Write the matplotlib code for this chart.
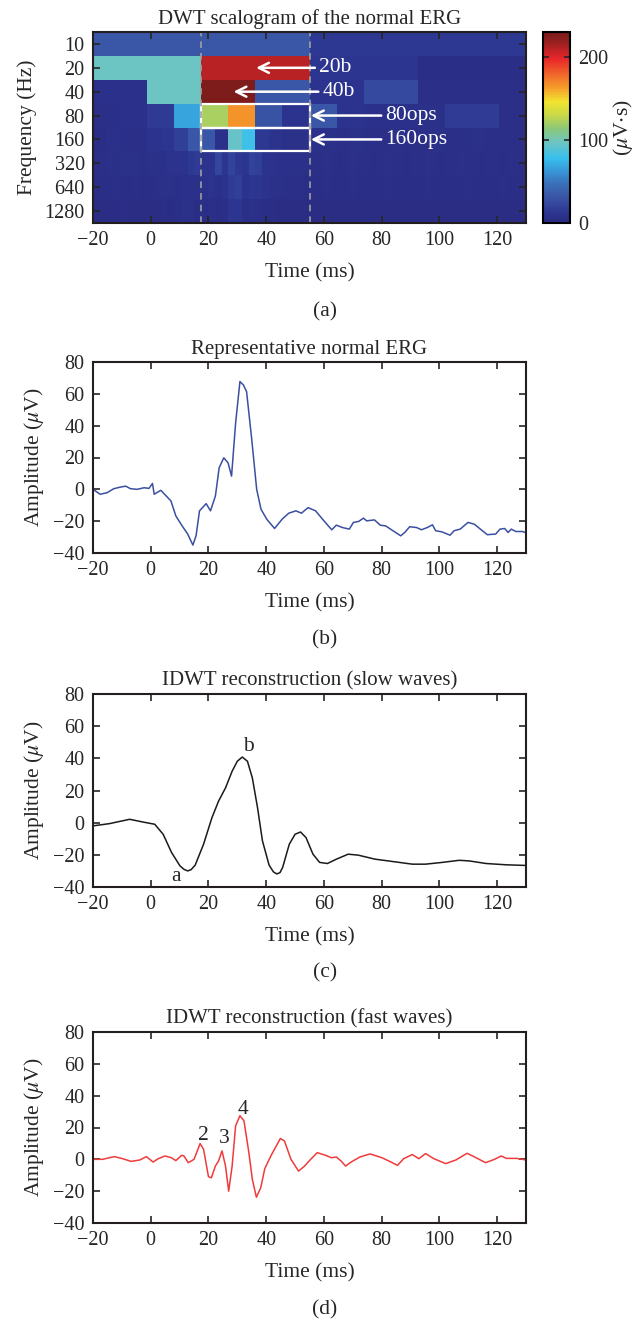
import numpy as np
import matplotlib
matplotlib.use('Agg')
import matplotlib.pyplot as plt
from matplotlib.colors import LinearSegmentedColormap
from matplotlib.patches import Rectangle

plt.rcParams['font.family'] = ['Liberation Serif', 'DejaVu Serif']
plt.rcParams['mathtext.fontset'] = 'stix'
plt.rcParams['text.color'] = '#262626'
plt.rcParams['axes.labelcolor'] = '#262626'
plt.rcParams['xtick.color'] = '#262626'
plt.rcParams['ytick.color'] = '#262626'

# ---- (a) DWT scalogram, one list per frequency band (uV*s) ----
freq_labels = ['10', '20', '40', '80', '160', '320', '640', '1280']
band_10 = [32, 32, 14, 14]
band_20 = [97, 210, 12, 5]
band_40 = [8, 97, 228, 32, 10, 25, 6, 6]
band_80 = [6, 8, 15, 68, 122, 166, 30, 10, 32, 10, 8, 8, 7, 16, 16, 6]
band_160 = [5, 8, 6, 6, 10, 12, 18, 33, 33, 8, 95, 80, 14, 9, 7, 7,
            8, 7, 6, 7, 6, 6, 7, 6, 6, 7, 6, 6, 7, 6, 6, 6]
band_320 = [6, 6, 7, 6, 7, 8, 7, 6, 7, 8, 8, 9, 10, 9, 14, 16,
            9, 10, 22, 12, 20, 14, 12, 20, 18, 10, 9, 8, 8, 8, 7, 7,
            6, 6, 7, 6, 5, 6, 7, 6, 6, 5, 6, 7, 6, 6, 5, 6,
            6, 7, 6, 5, 6, 6, 7, 6, 6, 5, 6, 6, 5, 6, 6, 5]
band_640 = [5, 5, 5, 6, 5, 5, 6, 5, 5, 6, 7, 7, 6, 8, 8, 7,
            8, 9, 8, 10, 16, 18, 10, 13, 12, 9, 8, 7, 6, 6, 6, 5,
            5, 5, 6, 5, 5, 5, 6, 5, 5, 5, 5, 6, 5, 5, 5, 5,
            5, 6, 5, 5, 5, 5, 5, 6, 5, 5, 5, 5, 6, 5, 5, 5]
band_1280 = [4, 4, 4, 4, 5, 4, 4, 4, 4, 4, 5, 4, 5, 7, 7, 5,
             5, 6, 5, 6, 12, 12, 6, 7, 6, 5, 5, 4, 4, 4, 4, 4,
             4, 4, 4, 4, 4, 4, 4, 4, 4, 4, 4, 4, 4, 4, 4, 4,
             4, 4, 4, 4, 4, 4, 4, 4, 4, 4, 4, 4, 4, 4, 4, 4]
bands = [band_10, band_20, band_40, band_80, band_160, band_320, band_640, band_1280]
cursor_times = [17.5, 55.0]

# ---- (b) representative normal ERG ----
b_time = [-20, -17.5, -15.1, -12.8, -10.5, -8.7, -7.0, -4.7, -2.3, -0.6, 0.6, 1.2, 3.5, 7.0, 8.7,
          10.5, 12.8, 14.6, 15.7, 16.9, 19.2, 20.7, 22.4, 23.7, 25.3, 26.8, 28.0, 29.4, 30.9, 32.1,
          33.2, 35.0, 36.7, 38.2, 40.2, 42.9, 45.5, 47.8, 50.3, 52.2, 54.5, 57.1, 60.0, 62.7, 64.3,
          66.4, 68.8, 70.2, 72.0, 73.7, 74.8, 77.5, 79.5, 81.4, 83.9, 86.6, 88.0, 89.7, 92.1, 93.8,
          95.8, 97.6, 98.7, 100.8, 103.7, 105.1, 107.2, 109.9, 112.1, 114.2, 116.6, 119.5, 121.0,
          122.6, 123.8, 124.9, 126.5, 128.8, 130.3]
b_amp = [0, -3.1, -2.1, 0.4, 1.4, 2.0, 0.4, 0.0, 1.0, 0.6, 3.7, -3.1, -0.6, -7.3, -16.7,
         -21.9, -28.1, -35.0, -29.2, -13.5, -9.0, -13.5, -4.2, 13.5, 19.8, 16.6, 8.3, 41.6, 67.7, 65.6,
         61.4, 31.2, 0.0, -12.5, -18.8, -24.6, -18.8, -15.0, -13.5, -15.0, -11.5, -13.5, -19.8, -25.4, -22.5,
         -24.0, -25.0, -20.8, -20.2, -18.1, -19.8, -19.2, -22.5, -23.0, -26.0, -29.2, -27.1, -23.5, -24.0, -25.4,
         -24.0, -22.3, -26.0, -26.7, -28.8, -26.0, -25.0, -20.8, -21.9, -25.0, -28.5, -28.1, -25.0,
         -24.6, -27.1, -25.0, -26.5, -26.5, -27.5]

# ---- (c) slow waves ----
c_time = [-20, -14.3, -7.3, -2.7, 1.4, 4.3, 7.2, 10.1, 11.5, 12.8, 14.0, 15.4, 18.3, 21.2, 23.5,
          25.9, 28.2, 30.0, 31.7, 33.5, 35.2, 37.0, 38.7, 41.0, 42.5, 43.7, 44.8, 45.7, 48.0, 50.0,
          51.9, 53.8, 56.2, 58.5, 61.2, 64.3, 68.4, 71.9, 77.7, 83.6, 90.6, 95.2, 101.0, 106.9,
          110.4, 116.2, 123.2, 130]
c_amp = [-2.0, -0.6, 2.1, 0.4, -1.0, -7.2, -18.5, -26.8, -29.0, -30.0, -29.2, -26.4, -13.4, 3.1, 13.4,
         21.6, 32.0, 38.2, 40.8, 38.2, 27.8, 9.3, -11.3, -26.4, -30.6, -31.9, -31.0, -27.8, -13.4, -7.2,
         -5.8, -9.3, -19.6, -24.7, -25.4, -22.7, -19.6, -20.2, -22.7, -24.1, -25.8, -25.8, -24.7, -23.4,
         -23.8, -25.4, -26.2, -26.6]

# ---- (d) fast waves (oscillatory potentials) ----
d_time = [-20, -16.7, -12.6, -9.7, -6.8, -3.8, -1.5, 0.8, 2.6, 4.9, 7.2, 8.7, 10.7, 11.5, 13.0,
          15.0, 17.1, 18.3, 20.0, 21.0, 22.4, 23.5, 24.7, 25.9, 27.0, 28.2, 29.4, 30.9, 32.3, 34.0,
          35.2, 36.6, 38.1, 39.5, 41.6, 44.9, 46.3, 48.6, 51.2, 53.3, 55.4, 57.7, 60.3, 62.6, 64.3,
          65.9, 67.5, 69.6, 72.5, 76.0, 80.1, 83.0, 85.5, 87.6, 90.6, 92.9, 95.2, 98.1, 102.2, 105.7,
          109.6, 112.7, 116.0, 119.1, 121.4, 123.2, 126.7, 130]
d_amp = [0, 0, 1.7, 0.4, -1.3, -0.4, 1.7, -1.7, 0.4, 2.1, 1.0, -0.8, 2.5, 2.1, -2.1,
         0, 9.9, 6.3, -10.9, -11.6, -4.2, -1.0, 5.3, -4.2, -20.0, -4.2, 21.0, 27.4, 24.2, 4.2,
         -12.6, -23.8, -17.9, -5.9, 2.1, 13.1, 11.6, 0, -7.4, -4.2, 0, 4.2, 2.7, 1.0, 1.5,
         -1.0, -4.2, -1.5, 1.5, 3.4, 1.0, -1.5, -3.8, 0.4, 3.0, 0.4, 3.6, 0.4, -2.7, -0.4,
         3.8, 1.0, -2.1, 0, 2.1, 0.6, 0.6, -0.4]

# muted jet as printed in the paper
cmap = LinearSegmentedColormap.from_list('erg_jet', [
    (0.0, '#2a2a80'), (0.05, '#2c3590'), (0.135, '#3a55a5'), (0.205, '#3a70b8'),
    (0.275, '#3898d8'), (0.34, '#38c0ee'), (0.425, '#70c4c0'), (0.495, '#8cc878'),
    (0.565, '#c8d848'), (0.635, '#f2e430'), (0.705, '#f5a02a'), (0.775, '#f06a2a'),
    (0.86, '#e8262a'), (0.965, '#8a1e1e'), (1.0, '#7a1a1a')])
vmax = 230

fig = plt.figure(figsize=(6.39, 13.22), dpi=100)
L, W = 93 / 639, 433 / 639
H = 1322.0

def style(ax):
    ax.tick_params(direction='in', top=True, right=True, length=5, width=1.2,
                   labelsize=14.5, pad=6)
    for s in ax.spines.values():
        s.set_linewidth(1.5)
        s.set_color('#231f20')
    ax.set_xlim(-20, 130)
    ax.set_xticks(np.arange(-20, 121, 20))
    ax.set_xlabel('Time (ms)', fontsize=15.5, labelpad=9)

# ---- panel a ----
ax = fig.add_axes([L, 1 - 223 / H, W, 191 / H])
for i, vals in enumerate(bands):
    edges = np.linspace(-20, 130, len(vals) + 1)
    mesh = ax.pcolormesh(edges, [i - 0.5, i + 0.5], np.array([vals]),
                         cmap=cmap, vmin=0, vmax=vmax)
ax.set_ylim(7.5, -0.5)
ax.set_yticks(range(len(freq_labels)))
ax.set_yticklabels(freq_labels)
for t in cursor_times:
    ax.axvline(t, color='#a0a0a0', ls=(0, (4, 3)), lw=1.2)
ax.add_patch(Rectangle((17.5, 2.5), 37.5, 1, fill=False, ec='white', lw=1.6))
ax.add_patch(Rectangle((17.5, 3.5), 37.5, 1, fill=False, ec='white', lw=1.6))
arrow = dict(arrowstyle='->', color='white', lw=1.8, mutation_scale=18, shrinkA=1, shrinkB=0)
ax.annotate('20b', xy=(36.5, 1), xytext=(58.3, 1), color='white', fontsize=15.5,
            ha='left', va='center', arrowprops=arrow)
ax.annotate('40b', xy=(28.7, 2), xytext=(59.5, 2), color='white', fontsize=15.5,
            ha='left', va='center', arrowprops=arrow)
ax.annotate('80ops', xy=(55.5, 3), xytext=(81.3, 3), color='white', fontsize=15.5,
            ha='left', va='center', arrowprops=arrow)
ax.annotate('160ops', xy=(55.5, 4), xytext=(81.3, 4), color='white', fontsize=15.5,
            ha='left', va='center', arrowprops=arrow)
style(ax)
ax.set_ylabel('Frequency (Hz)', fontsize=15.5, labelpad=5)
ax.set_title('DWT scalogram of the normal ERG', fontsize=15, pad=6)

cax = fig.add_axes([543 / 639, 1 - 223 / H, 27 / 639, 191 / H])
cb = fig.colorbar(mesh, cax=cax)
cb.set_ticks([0, 100, 200])
cax.tick_params(direction='in', left=True, right=True, length=4, width=1.2,
                labelsize=14.5, pad=6)
cb.outline.set_linewidth(1.5)
cb.set_label(r'($\mu$V$\cdot$s)', fontsize=15.5, labelpad=2)

# ---- panels b, c, d ----
curves = [
    (b_time, b_amp, '#3b4fa1', 'Representative normal ERG', 553, 191),
    (c_time, c_amp, '#1a1a1a', 'IDWT reconstruction (slow waves)', 887, 193),
    (d_time, d_amp, '#ef3b3b', 'IDWT reconstruction (fast waves)', 1223, 191),
]
axes = []
for tt, yy, col, title, bottom, height in curves:
    ax = fig.add_axes([L, 1 - bottom / H, W, height / H])
    ax.plot(tt, yy, color=col, lw=1.1)
    ax.set_ylim(-40, 80)
    ax.set_yticks(np.arange(-40, 81, 20))
    style(ax)
    ax.set_ylabel(r'Amplitude ($\mu$V)', fontsize=15.5, labelpad=5)
    ax.set_title(title, fontsize=15, pad=6)
    axes.append(ax)

axes[1].text(8.7, -33.5, 'a', fontsize=15.5, ha='center', va='center')
axes[1].text(33.7, 47.5, 'b', fontsize=15.5, ha='center', va='center')
axes[2].text(18.1, 14.7, '2', fontsize=15.5, ha='center', va='center')
axes[2].text(25.5, 12.8, '3', fontsize=15.5, ha='center', va='center')
axes[2].text(32.0, 31.6, '4', fontsize=15.5, ha='center', va='center')

for lab, y in zip(['(a)', '(b)', '(c)', '(d)'], [312, 640, 973, 1310]):
    fig.text(325 / 639, 1 - y / H, lab, fontsize=15.5, ha='center', va='center')

fig.savefig('out.png', dpi=100)
